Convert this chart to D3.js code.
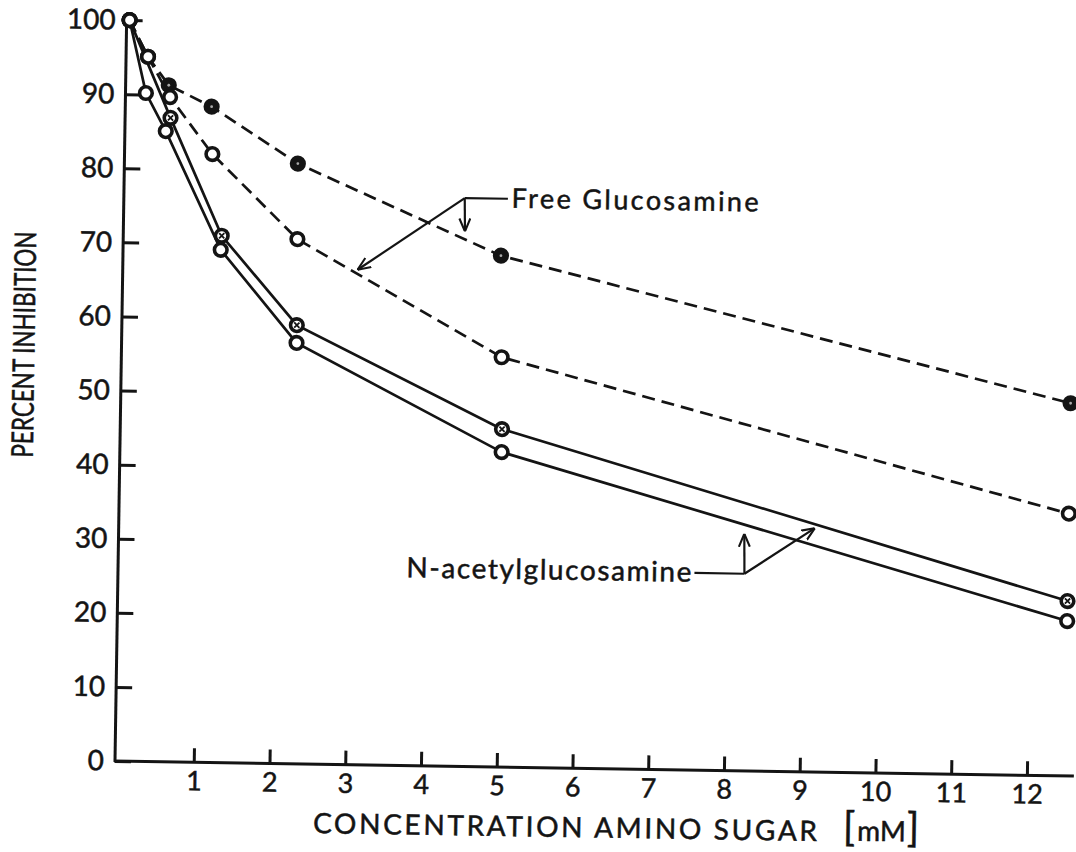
<!DOCTYPE html>
<html>
<head>
<meta charset="utf-8">
<script src="https://cdn.jsdelivr.net/npm/d3@7"></script>
<style>
  html, body { margin: 0; padding: 0; background: #fff; }
  svg { display: block; }
  text { font-family: Lato, "Open Sans", sans-serif; fill: #141414; stroke: #141414; stroke-width: 0.5px; }
</style>
</head>
<body>
<svg id="chart" width="1076" height="852"></svg>
<script>
// Percent inhibition vs. amino sugar concentration (mM)
const xTicks = [1, 2, 3, 4, 5, 6, 7, 8, 9, 10, 11, 12];
const yTicks = [0, 10, 20, 30, 40, 50, 60, 70, 80, 90, 100];

// Free glucosamine, upper dashed curve (filled markers)
const freeA_conc = [0, 0.25, 0.53, 1.1, 2.25, 4.95, 12.5];
const freeA_inh  = [100, 95.1, 91.3, 88.5, 81.0, 69.0, 50.3];
// Free glucosamine, lower dashed curve (open markers)
const freeB_conc = [0, 0.25, 0.55, 1.12, 2.26, 4.98, 12.5];
const freeB_inh  = [100, 95.1, 89.7, 82.1, 70.8, 55.3, 35.4];
// N-acetylglucosamine, upper solid curve (marked circles)
const nacA_conc = [0, 0.56, 1.26, 2.27, 5.0, 12.5];
const nacA_inh  = [100, 86.9, 71.1, 59.2, 45.6, 23.6];
// N-acetylglucosamine, lower solid curve (open markers)
const nacB_conc = [0, 0.23, 0.5, 1.25, 2.27, 5.0, 12.5];
const nacB_inh  = [100, 90.2, 85.1, 69.2, 56.8, 42.5, 20.9];

const xTitle = "CONCENTRATION AMINO SUGAR";
const xUnit = "mM";
const yTitle = "PERCENT INHIBITION";
const freeLabel = "Free Glucosamine";
const nacLabel = "N-acetylglucosamine";

const ink = "#141414";
const svg = d3.select("#chart");
svg.append("rect").attr("width", 1076).attr("height", 852).attr("fill", "#fff");

// the plate sits slightly askew on the page
const g = svg.append("g").attr("transform", "translate(115,761) rotate(0.9)");

const x = d3.scaleLinear().domain([0, 12]).range([3, 3 + 75.75 * 12]);
const y = d3.scaleLinear().domain([0, 100]).range([0, -741]);

// arrowhead
svg.append("defs").append("marker")
  .attr("id", "arrow").attr("viewBox", "0 -5 10 10")
  .attr("refX", 10).attr("refY", 0)
  .attr("markerUnits", "userSpaceOnUse")
  .attr("markerWidth", 13).attr("markerHeight", 13)
  .attr("orient", "auto")
  .append("path").attr("d", "M0,-4.2 L10,0 L0,4.2")
  .attr("fill", "none").attr("stroke", ink).attr("stroke-width", 1.6);

// axis lines
g.append("line").attr("x1", -1).attr("x2", x(12.62)).attr("y1", 0).attr("y2", 0)
  .attr("stroke", ink).attr("stroke-width", 3);
g.append("line").attr("x1", 0).attr("x2", 0).attr("y1", 1).attr("y2", y(100))
  .attr("stroke", ink).attr("stroke-width", 3);

// y axis ticks (pointing inward) and labels
const yAx = g.append("g").call(
  d3.axisLeft(y).tickValues(yTicks).tickSize(-16).tickSizeOuter(0).tickPadding(11).tickFormat(d3.format("d"))
);
yAx.select(".domain").remove();
yAx.selectAll(".tick line").attr("stroke", ink).attr("stroke-width", 3);
yAx.selectAll(".tick text").attr("font-size", 28).attr("font-family", "Lato").attr("fill", ink);

// x axis ticks (pointing inward) and labels
const xAx = g.append("g").call(
  d3.axisBottom(x).tickValues(xTicks).tickSize(-14).tickSizeOuter(0).tickPadding(9).tickFormat(d3.format("d"))
);
xAx.select(".domain").remove();
xAx.selectAll(".tick line").attr("stroke", ink).attr("stroke-width", 3);
xAx.selectAll(".tick text").attr("font-size", 27).attr("font-family", "Lato").attr("fill", ink);

// axis titles
g.append("text").attr("x", 199).attr("y", 69)
  .attr("font-size", 28).attr("textLength", 504).attr("lengthAdjust", "spacing")
  .text(xTitle);
const unit = g.append("text").attr("x", 729).attr("y", 68);
unit.append("tspan").attr("font-size", 40).text("[");
unit.append("tspan").attr("font-size", 28).attr("dx", 2).text(xUnit);
unit.append("tspan").attr("font-size", 40).attr("dx", 1).text("]");

g.append("text")
  .attr("transform", "translate(-87,-415) rotate(-90)")
  .attr("text-anchor", "middle")
  .attr("font-size", 30).attr("textLength", 226).attr("lengthAdjust", "spacingAndGlyphs")
  .text(yTitle);

// curves
const series = [
  { conc: freeA_conc, inh: freeA_inh, dash: "13,7", marker: "filled" },
  { conc: nacA_conc,  inh: nacA_inh,  dash: null,   marker: "marked" },
  { conc: freeB_conc, inh: freeB_inh, dash: "13,7", marker: "open" },
  { conc: nacB_conc,  inh: nacB_inh,  dash: null,   marker: "open" }
];
const line = d3.line().x(d => x(d[0])).y(d => y(d[1]));

series.forEach(s => {
  const pts = s.conc.map((c, i) => [c, s.inh[i]]);
  g.append("path").datum(pts).attr("d", line)
    .attr("fill", "none").attr("stroke", ink).attr("stroke-width", 2.7)
    .attr("stroke-dasharray", s.dash);
});

series.forEach(s => {
  const pts = s.conc.map((c, i) => [c, s.inh[i]]);
  const m = g.append("g").selectAll("g").data(pts).join("g")
    .attr("transform", d => `translate(${x(d[0])},${y(d[1])})`);
  m.append("circle").attr("r", 6.3)
    .attr("fill", s.marker === "filled" ? ink : "#fff")
    .attr("stroke", ink).attr("stroke-width", 3.6);
  if (s.marker === "filled") m.append("circle").attr("r", 1.4).attr("fill", "#aaa");
  if (s.marker === "marked") {
    m.append("path").attr("d", "M-2.6,-2.6L2.6,2.6M-2.6,2.6L2.6,-2.6")
      .attr("stroke", ink).attr("stroke-width", 1.8);
  }
});

// labels with leaders
const toXY = p => [x(p[0]), y(p[1])];

// Free Glucosamine
const fElbow = [4.46, 76.7], fEnd = [5.03, 76.7];
const fTips = [[4.47, 72.2], [3.06, 66.8]];
g.append("path").attr("d", d3.line()([toXY(fEnd), toXY(fElbow)]))
  .attr("stroke", ink).attr("stroke-width", 2.2);
fTips.forEach(t => {
  g.append("path").attr("d", d3.line()([toXY(fElbow), toXY(t)]))
    .attr("stroke", ink).attr("stroke-width", 2.2).attr("fill", "none")
    .attr("marker-end", "url(#arrow)");
});
g.append("text").attr("x", x(5.08)).attr("y", y(75.5))
  .attr("font-size", 27).attr("textLength", 247).attr("lengthAdjust", "spacing")
  .text(freeLabel);

// N-acetylglucosamine
const nElbow = [8.23, 26.6], nStart = [7.57, 26.6];
const nTips = [[8.22, 32.0], [9.15, 32.9]];
g.append("path").attr("d", d3.line()([toXY(nStart), toXY(nElbow)]))
  .attr("stroke", ink).attr("stroke-width", 2.2);
nTips.forEach(t => {
  g.append("path").attr("d", d3.line()([toXY(nElbow), toXY(t)]))
    .attr("stroke", ink).attr("stroke-width", 2.2).attr("fill", "none")
    .attr("marker-end", "url(#arrow)");
});
g.append("text").attr("x", x(7.53)).attr("y", y(25.4))
  .attr("text-anchor", "end")
  .attr("font-size", 28).attr("textLength", 285).attr("lengthAdjust", "spacing")
  .text(nacLabel);
</script>
</body>
</html>
